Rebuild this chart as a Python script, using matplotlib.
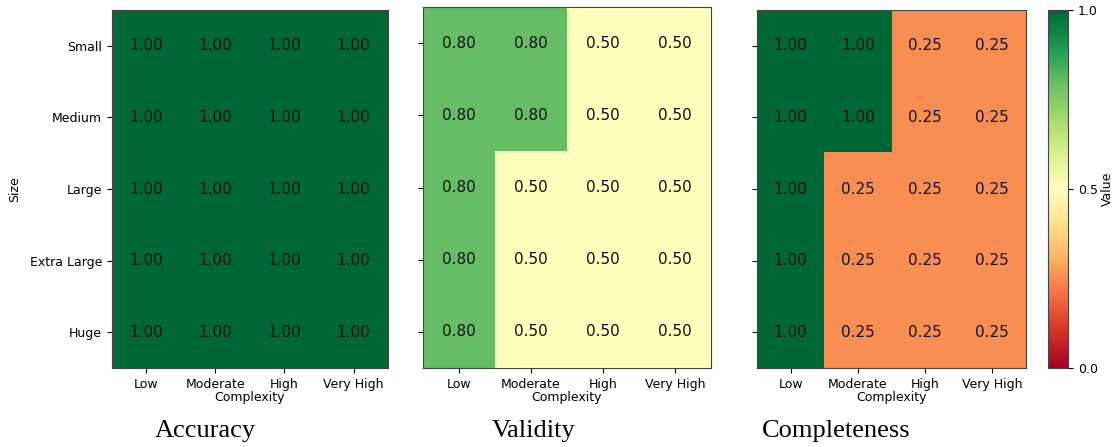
import numpy as np
import matplotlib.pyplot as plt

complexity = ["Low", "Moderate", "High", "Very High"]
sizes = ["Small", "Medium", "Large", "Extra Large", "Huge"]

accuracy = [
    [1.00, 1.00, 1.00, 1.00],
    [1.00, 1.00, 1.00, 1.00],
    [1.00, 1.00, 1.00, 1.00],
    [1.00, 1.00, 1.00, 1.00],
    [1.00, 1.00, 1.00, 1.00],
]
validity = [
    [0.80, 0.80, 0.50, 0.50],
    [0.80, 0.80, 0.50, 0.50],
    [0.80, 0.50, 0.50, 0.50],
    [0.80, 0.50, 0.50, 0.50],
    [0.80, 0.50, 0.50, 0.50],
]
completeness = [
    [1.00, 1.00, 0.25, 0.25],
    [1.00, 1.00, 0.25, 0.25],
    [1.00, 0.25, 0.25, 0.25],
    [1.00, 0.25, 0.25, 0.25],
    [1.00, 0.25, 0.25, 0.25],
]
titles = ["Accuracy", "Validity", "Completeness"]

# axes boxes (left, bottom, width, height) in figure fractions
boxes = [
    (0.1005, 0.1767, 0.2478, 0.8009),
    (0.3797, 0.1767, 0.2585, 0.8076),
    (0.6795, 0.1767, 0.2415, 0.8009),
]
caption_x = [0.184, 0.479, 0.684]
caption_ha = ["center", "center", "left"]

fig = plt.figure(figsize=(11.14, 4.47), dpi=100)

im = None
for i, (data, box) in enumerate(zip([accuracy, validity, completeness], boxes)):
    ax = fig.add_axes(box)
    arr = np.array(data)
    im = ax.imshow(arr, cmap="RdYlGn", vmin=0, vmax=1, aspect="auto")
    for r in range(arr.shape[0]):
        for c in range(arr.shape[1]):
            ax.text(c, r, f"{arr[r, c]:.2f}", ha="center", va="center",
                    fontsize=11, color="#111111")
    ax.set_xticks(range(len(complexity)))
    ax.set_xticklabels(complexity, fontsize=9)
    ax.set_yticks(range(len(sizes)))
    if i == 0:
        ax.set_yticklabels(sizes, fontsize=9)
        ax.set_ylabel("Size", fontsize=9, labelpad=6)
    else:
        ax.set_yticklabels([])
    ax.set_xlabel("Complexity", fontsize=9, labelpad=0)
    for s in ax.spines.values():
        s.set_color("#444444")
    fig.text(caption_x[i], 0.022, titles[i], ha=caption_ha[i], va="baseline",
             fontsize=19, family="Liberation Serif")

cax = fig.add_axes((0.9408, 0.1767, 0.0180, 0.8009))
cb = fig.colorbar(im, cax=cax)
cb.set_ticks([0.0, 0.5, 1.0])
cb.ax.tick_params(labelsize=9)
cb.set_label("Value", fontsize=9, labelpad=2)
cb.outline.set_edgecolor("#444444")

fig.savefig("out.png", dpi=100)
